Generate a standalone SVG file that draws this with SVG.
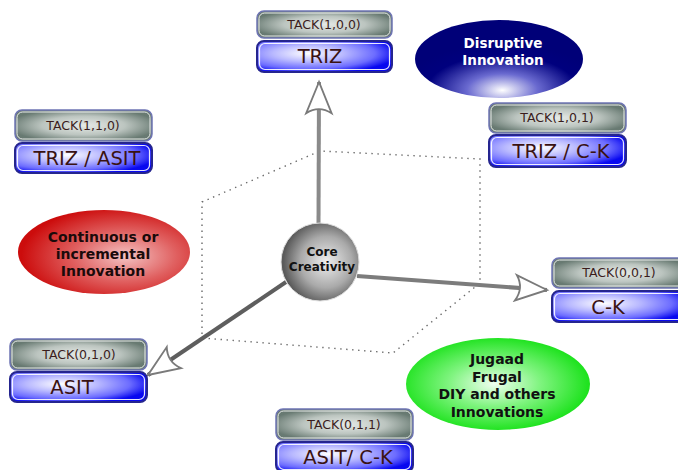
<svg xmlns="http://www.w3.org/2000/svg" width="678" height="470" viewBox="0 0 678 470">
<defs>
<radialGradient id="gGrey" cx="0.5" cy="0.5" r="0.55">
<stop offset="0" stop-color="#e6eae6"/><stop offset="0.55" stop-color="#bcc5c0"/><stop offset="1" stop-color="#687a72"/>
</radialGradient>
<radialGradient id="gBlue" cx="0.38" cy="0.4" r="0.66">
<stop offset="0" stop-color="#ffffff"/><stop offset="0.4" stop-color="#b8b8ff"/><stop offset="0.75" stop-color="#6c6cff"/><stop offset="1" stop-color="#0808f0"/>
</radialGradient>
<radialGradient id="gSphere" cx="0.58" cy="0.5" r="0.55">
<stop offset="0" stop-color="#eeeeee"/><stop offset="0.6" stop-color="#aaaaaa"/><stop offset="1" stop-color="#5a5a5a"/>
</radialGradient>
<radialGradient id="gRed" cx="0.62" cy="0.55" r="0.6">
<stop offset="0" stop-color="#f4c4c4"/><stop offset="0.5" stop-color="#e06060"/><stop offset="1" stop-color="#cc0c0c"/>
</radialGradient>
<radialGradient id="gNavy" cx="0.52" cy="0.9" r="0.6">
<stop offset="0" stop-color="#ffffff"/><stop offset="0.35" stop-color="#6a6ad0"/><stop offset="0.75" stop-color="#00007e"/><stop offset="1" stop-color="#000078"/>
</radialGradient>
<radialGradient id="gGreen" cx="0.48" cy="0.5" r="0.55">
<stop offset="0" stop-color="#f0fff0"/><stop offset="0.45" stop-color="#80f480"/><stop offset="1" stop-color="#10e010"/>
</radialGradient>
<marker id="head" markerUnits="userSpaceOnUse" markerWidth="40" markerHeight="30" viewBox="-30 -13 32 26" refX="0" refY="0" orient="auto">
<path d="M0,0 L-27,-11 Q-20,0 -27,11 Z" fill="#ffffff" stroke="#7a7a7a" stroke-width="1.6" stroke-linejoin="miter"/>
</marker>
<style>
.gbox{fill:url(#gGrey);stroke:#6e74b4;stroke-width:1.5}
.gin{fill:none;stroke:#ffffff;stroke-opacity:0.85;stroke-width:1}
.bbox{fill:url(#gBlue);stroke:#25258f;stroke-width:2}
.bin{fill:none;stroke:#ffffff;stroke-opacity:0.9;stroke-width:1.2}
.tk{font-family:"DejaVu Sans",sans-serif;font-size:12.5px;fill:#3a1c1c;text-anchor:middle}
.bl{font-family:"DejaVu Sans",sans-serif;font-size:19.5px;fill:#3a1212;text-anchor:middle}
.el{font-family:"DejaVu Sans",sans-serif;font-size:14px;font-weight:bold;text-anchor:middle}
.shaft{fill:none;stroke-width:4;stroke-linecap:butt;marker-end:url(#head)}
</style>
</defs>
<rect width="678" height="470" fill="#ffffff"/>

<g id="cube">
<polygon points="202,202 320,151 480,159 480,283 393,353 202,338" fill="none" stroke="#6a6a6a" stroke-width="1.4" stroke-dasharray="1.4,4.6"/>
</g>

<g id="connectors">
<line class="shaft" x1="318.5" y1="224" x2="319" y2="82" stroke="#8a8a8a"/>
<line class="shaft" x1="357" y1="276" x2="547" y2="290" stroke="#7c7c7c"/>
<line class="shaft" x1="286" y1="282" x2="148" y2="375" stroke="#5e5e5e"/>
</g>

<g id="core">
<circle cx="320" cy="262" r="39" fill="url(#gSphere)" stroke="#dddddd" stroke-width="1"/>
<text class="el" x="322" y="256" style="font-size:12px" fill="#111">Core</text>
<text class="el" x="322" y="271" style="font-size:12px" fill="#111">Creativity</text>
</g>

<g id="continuous">
<ellipse cx="104" cy="252" rx="86" ry="42" fill="url(#gRed)"/>
<text class="el" x="103" y="242" fill="#1a0a0a">Continuous or</text>
<text class="el" x="103" y="259" fill="#1a0a0a">incremental</text>
<text class="el" x="103" y="276" fill="#1a0a0a">Innovation</text>
</g>

<g id="disruptive">
<ellipse cx="499" cy="59" rx="84" ry="39" fill="url(#gNavy)"/>
<text class="el" x="503" y="48" fill="#ffffff" style="font-size:13.5px">Disruptive</text>
<text class="el" x="503" y="65" fill="#ffffff" style="font-size:13.5px">Innovation</text>
</g>

<g id="jugaad">
<ellipse cx="498" cy="384" rx="92" ry="46" fill="url(#gGreen)"/>
<text class="el" x="497" y="364" fill="#111">Jugaad</text>
<text class="el" x="497" y="382" fill="#111">Frugal</text>
<text class="el" x="497" y="399" fill="#111">DIY and others</text>
<text class="el" x="497" y="417" fill="#111">Innovations</text>
</g>

<g id="tack100">
<rect class="gbox" x="257" y="11" width="135" height="27" rx="7"/>
<rect class="gin" x="259" y="13" width="131" height="23" rx="5.5"/>
<text class="tk" x="324" y="29">TACK(1,0,0)</text>
<rect class="bbox" x="257" y="41" width="135" height="31" rx="7"/>
<rect class="bin" x="259.5" y="43.5" width="130" height="26" rx="5.5"/>
<text class="bl" x="320" y="63">TRIZ</text>
</g>

<g id="tack110">
<rect class="gbox" x="15" y="110" width="137" height="31" rx="7"/>
<rect class="gin" x="17" y="112" width="133" height="27" rx="5.5"/>
<text class="tk" x="83" y="130">TACK(1,1,0)</text>
<rect class="bbox" x="15" y="143" width="137" height="30" rx="7"/>
<rect class="bin" x="17.5" y="145.5" width="132" height="25" rx="5.5"/>
<text class="bl" x="87" y="165">TRIZ / ASIT</text>
</g>

<g id="tack101">
<rect class="gbox" x="489" y="103" width="137" height="30" rx="7"/>
<rect class="gin" x="491" y="105" width="133" height="26" rx="5.5"/>
<text class="tk" x="557" y="122">TACK(1,0,1)</text>
<rect class="bbox" x="489" y="135" width="137" height="32" rx="7"/>
<rect class="bin" x="491.5" y="137.5" width="132" height="27" rx="5.5"/>
<text class="bl" x="561" y="158">TRIZ / C-K</text>
</g>

<g id="tack001">
<rect class="gbox" x="552" y="258" width="137" height="30" rx="7"/>
<rect class="gin" x="554" y="260" width="133" height="26" rx="5.5"/>
<text class="tk" x="619" y="277">TACK(0,0,1)</text>
<rect class="bbox" x="552" y="291" width="137" height="31" rx="7"/>
<rect class="bin" x="554.5" y="293.5" width="132" height="26" rx="5.5"/>
<text class="bl" x="608" y="314">C-K</text>
</g>

<g id="tack010">
<rect class="gbox" x="10" y="339" width="137" height="31" rx="7"/>
<rect class="gin" x="12" y="341" width="133" height="27" rx="5.5"/>
<text class="tk" x="79" y="359">TACK(0,1,0)</text>
<rect class="bbox" x="10" y="372" width="137" height="30" rx="7"/>
<rect class="bin" x="12.5" y="374.5" width="132" height="25" rx="5.5"/>
<text class="bl" x="72" y="394">ASIT</text>
</g>

<g id="tack011">
<rect class="gbox" x="276" y="409" width="137" height="31" rx="7"/>
<rect class="gin" x="278" y="411" width="133" height="27" rx="5.5"/>
<text class="tk" x="344" y="429">TACK(0,1,1)</text>
<rect class="bbox" x="276" y="442" width="137" height="30" rx="7"/>
<rect class="bin" x="278.5" y="444.5" width="132" height="25" rx="5.5"/>
<text class="bl" x="348" y="464">ASIT/ C-K</text>
</g>
</svg>
